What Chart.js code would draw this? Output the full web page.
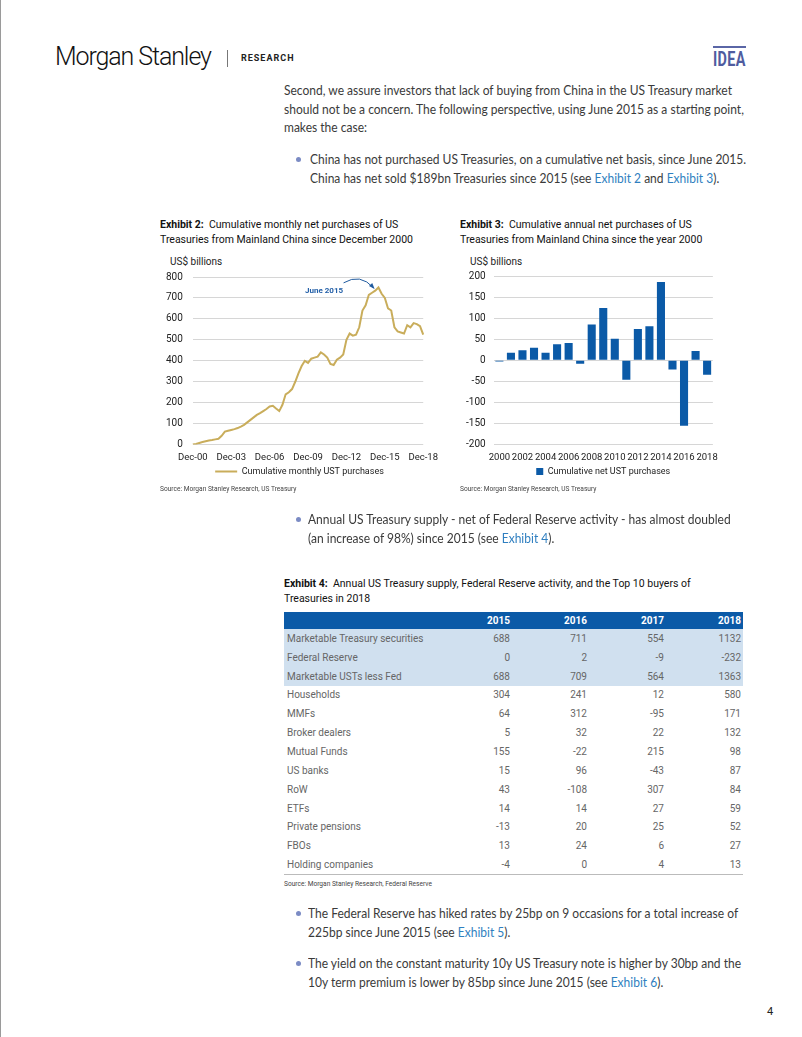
<!DOCTYPE html>
<html>
<head>
<meta charset="utf-8">
<title>Morgan Stanley Research - China UST purchases</title>
<script src="https://cdn.jsdelivr.net/npm/chart.js@4.4.0/dist/chart.umd.min.js"></script>
<style>
    body { margin:0; width:802px; height:1037px; position:relative; background:#fff; overflow:hidden;
           font-family: Lato, "Open Sans", sans-serif; color:#333; }
    .abs { position:absolute; white-space:nowrap; }
    .frame { position:absolute; left:0; top:0; width:1px; height:1037px; background:#9a9a9a; }
    .logo { left:55px; top:42px; font-family:Roboto, sans-serif; font-weight:300; font-size:25px; letter-spacing:-1.1px; color:#111; }
    .sep { left:227px; top:50px; width:1px; height:17px; background:#777; }
    .research { left:241px; top:53px; font-family:Roboto, sans-serif; font-weight:700; font-size:9px; letter-spacing:1px; color:#222; }
    .idea-bar { left:713px; top:46px; width:33px; height:2px; background:#5a66a6; }
    .idea { left:713px; top:47px; font-family:Roboto, sans-serif; font-weight:700; font-size:20px; color:#4f5c9f;
            transform:scaleX(0.72); transform-origin:left top; letter-spacing:0.5px; }
    .body { font-size:13.6px; line-height:18.5px; color:#3a3a3a; transform:scaleX(0.885); transform-origin:left top; }
    .bullet { width:5px; height:5px; border-radius:50%; background:#7b8bc4; }
    .lnk { color:#2f7fc0; }
    .ex-title { font-family:Roboto, sans-serif; font-size:10.5px; line-height:15px; color:#111; }
    .ex-title b { font-weight:700; }
    .unit { font-family:Roboto, sans-serif; font-size:10px; color:#222; }
    .src { font-family:Roboto, sans-serif; font-size:6.6px; color:#444; }
    .note { font-family:Roboto, sans-serif; font-weight:700; font-size:8px; color:#2460a8; }
    canvas { position:absolute; }
    table { position:absolute; left:284px; top:612px; width:459px; border-collapse:collapse; table-layout:fixed;
            font-family:Roboto, sans-serif; font-size:10px; color:#666; }
    th { background:#0b5aa7; color:#fff; font-weight:700; height:17px; padding:0 2px 0 0; text-align:right; }
    td { height:18.85px; padding:0 2px 0 0; text-align:right; }
    td:first-child { text-align:left; padding-left:3px; }
    tr.hl td { background:#d0e0ef; }
    tr:last-child td { border-bottom:1px solid #bbb; }
    .pnum { left:767px; top:1005px; font-family:Roboto, sans-serif; font-size:11px; color:#222; }
</style>
</head>
<body>
<div class="frame"></div>

<div class="abs logo">Morgan Stanley</div>
<div class="abs sep"></div>
<div class="abs research">RESEARCH</div>
<div class="abs idea-bar"></div>
<div class="abs idea">IDEA</div>

<div class="abs body" style="left:284px; top:81px;">
    Second, we assure investors that lack of buying from China in the US Treasury market<br>
    should not be a concern. The following perspective, using June 2015 as a starting point,<br>
    makes the case:
</div>

<div class="abs bullet" style="left:296px; top:157px;"></div>
<div class="abs body" style="left:310px; top:150px;">
    China has not purchased US Treasuries, on a cumulative net basis, since June 2015.<br>
    China has net sold $189bn Treasuries since 2015 (see <span class="lnk">Exhibit 2</span> and <span class="lnk">Exhibit 3</span>).
</div>

<!-- Exhibit 2 -->
<div class="abs ex-title" style="left:160px; top:217px;">
    <b>Exhibit 2:</b>&nbsp; Cumulative monthly net purchases of US<br>
    Treasuries from Mainland China since December 2000
</div>
<div class="abs unit" style="left:170px; top:256px;">US$ billions</div>
<canvas id="chartMonthly" width="295" height="225" style="left:150px; top:261px;"></canvas>
<div class="abs note" style="left:305px; top:286px;">June 2015</div>
<div class="abs src" style="left:160px; top:485px;">Source: Morgan Stanley Research, US Treasury</div>

<!-- Exhibit 3 -->
<div class="abs ex-title" style="left:460px; top:217px;">
    <b>Exhibit 3:</b>&nbsp; Cumulative annual net purchases of US<br>
    Treasuries from Mainland China since the year 2000
</div>
<div class="abs unit" style="left:470px; top:256px;">US$ billions</div>
<canvas id="chartAnnual" width="271" height="224" style="left:454px; top:262px;"></canvas>
<div class="abs src" style="left:460px; top:485px;">Source: Morgan Stanley Research, US Treasury</div>

<div class="abs bullet" style="left:296px; top:517px;"></div>
<div class="abs body" style="left:308px; top:510px;">
    Annual US Treasury supply - net of Federal Reserve activity - has almost doubled<br>
    (an increase of 98%) since 2015 (see <span class="lnk">Exhibit 4</span>).
</div>

<!-- Exhibit 4 -->
<div class="abs ex-title" style="left:284px; top:576px;">
    <b>Exhibit 4:</b>&nbsp; Annual US Treasury supply, Federal Reserve activity, and the Top 10 buyers of<br>
    Treasuries in 2018
</div>
<table id="supplyTable">
    <colgroup><col style="width:151px"><col style="width:77px"><col style="width:77px"><col style="width:77px"><col style="width:77px"></colgroup>
    <thead><tr><th></th><th>2015</th><th>2016</th><th>2017</th><th>2018</th></tr></thead>
    <tbody></tbody>
</table>
<div class="abs src" style="left:284px; top:880px;">Source: Morgan Stanley Research, Federal Reserve</div>

<div class="abs bullet" style="left:296px; top:911px;"></div>
<div class="abs body" style="left:308px; top:904px;">
    The Federal Reserve has hiked rates by 25bp on 9 occasions for a total increase of<br>
    225bp since June 2015 (see <span class="lnk">Exhibit 5</span>).
</div>
<div class="abs bullet" style="left:296px; top:961px;"></div>
<div class="abs body" style="left:308px; top:954px;">
    The yield on the constant maturity 10y US Treasury note is higher by 30bp and the<br>
    10y term premium is lower by 85bp since June 2015 (see <span class="lnk">Exhibit 6</span>).
</div>

<div class="abs pnum">4</div>

<script>
// ===== DATA =====
// Exhibit 2: quarter-end readings, Dec-00 .. Dec-18 (US$ bn)
const quarterEnds = ['Mar', 'Jun', 'Sep', 'Dec'];
const yearsShort = ['01','02','03','04','05','06','07','08','09','10','11','12','13','14','15','16','17','18'];
const monthlyTickLabels = ['Dec-00', 'Dec-03', 'Dec-06', 'Dec-09', 'Dec-12', 'Dec-15', 'Dec-18'];
const cumulativeUst = [
    0,
    3, 8, 12, 16,          // 2001
    20, 22, 25, 28,        // 2002
    42, 62, 66, 70,        // 2003
    74, 79, 86, 94,        // 2004
    106, 118, 130, 142,    // 2005
    150, 160, 170, 182,    // 2006
    185, 172, 160, 190,    // 2007
    240, 250, 265, 300,    // 2008
    340, 375, 400, 390,    // 2009
    410, 415, 420, 440,    // 2010
    430, 415, 385, 380,    // 2011
    405, 415, 430, 500,    // 2012
    530, 520, 525, 560,    // 2013
    640, 665, 715, 725,    // 2014
    735, 750, 720, 700,    // 2015
    650, 640, 560, 540,    // 2016
    535, 530, 570, 560,    // 2017
    580, 575, 565, 525     // 2018
];

// Exhibit 3
const years = ['2000','2001','2002','2003','2004','2005','2006','2007','2008','2009',
               '2010','2011','2012','2013','2014','2015','2016','2017','2018'];
const annualTickLabels = ['2000','2002','2004','2006','2008','2010','2012','2014','2016','2018'];
const annualNet = [-3, 18, 24, 30, 18, 38, 41, -8, 85, 124, 51, -46, 74, 81, 186, -22, -155, 22, -34];

// Exhibit 4
const tableCols = ['2015', '2016', '2017', '2018'];
const tableRows = [
    ['Marketable Treasury securities', 688, 711, 554, 1132],
    ['Federal Reserve', 0, 2, -9, -232],
    ['Marketable USTs less Fed', 688, 709, 564, 1363],
    ['Households', 304, 241, 12, 580],
    ['MMFs', 64, 312, -95, 171],
    ['Broker dealers', 5, 32, 22, 132],
    ['Mutual Funds', 155, -22, 215, 98],
    ['US banks', 15, 96, -43, 87],
    ['RoW', 43, -108, 307, 84],
    ['ETFs', 14, 14, 27, 59],
    ['Private pensions', -13, 20, 25, 52],
    ['FBOs', 13, 24, 6, 27],
    ['Holding companies', -4, 0, 4, 13]
];
const highlightRows = 3;

// ===== TABLE =====
const tbody = document.querySelector('#supplyTable tbody');
tableRows.forEach((row, i) => {
    const tr = document.createElement('tr');
    if (i < highlightRows) tr.className = 'hl';
    row.forEach(v => {
        const td = document.createElement('td');
        td.textContent = v;
        tr.appendChild(td);
    });
    tbody.appendChild(tr);
});

// ===== CHART DEFAULTS =====
Chart.defaults.font.family = 'Roboto, sans-serif';
Chart.defaults.font.size = 10;
Chart.defaults.color = '#222';

const GOLD = '#c9ad5b';
const BLUE = '#0b5aa7';
const GRID = '#d6d6d6';

// category labels for the quarterly series
const quarterLabels = ['Dec-00'];
yearsShort.forEach(y => quarterEnds.forEach(m => quarterLabels.push(m + '-' + y)));

// pull the legend a bit closer to the x labels
const tightenAxis = scale => { scale.height -= 5; };

// arrow pointing at the June 2015 peak
const peakArrow = {
    id: 'peakArrow',
    afterDatasetsDraw(chart) {
        const { ctx, scales: { x, y } } = chart;
        const x0 = x.getPixelForValue(47.1), y0 = y.getPixelForValue(772);
        const cx = x.getPixelForValue(52.3), cy = y.getPixelForValue(820);
        const x1 = x.getPixelForValue(56.5), y1 = y.getPixelForValue(748);
        ctx.save();
        ctx.strokeStyle = '#1f5a9e';
        ctx.fillStyle = '#1f5a9e';
        ctx.lineWidth = 1;
        ctx.beginPath();
        ctx.moveTo(x0, y0);
        ctx.quadraticCurveTo(cx, cy, x1, y1);
        ctx.stroke();
        const ang = Math.atan2(y1 - cy, x1 - cx);
        ctx.beginPath();
        ctx.moveTo(x1 + 1.5 * Math.cos(ang), y1 + 1.5 * Math.sin(ang));
        ctx.lineTo(x1 - 5 * Math.cos(ang - 0.45), y1 - 5 * Math.sin(ang - 0.45));
        ctx.lineTo(x1 - 5 * Math.cos(ang + 0.45), y1 - 5 * Math.sin(ang + 0.45));
        ctx.closePath();
        ctx.fill();
        ctx.restore();
    }
};

// ===== EXHIBIT 2 =====
new Chart(document.getElementById('chartMonthly'), {
    type: 'line',
    data: {
        labels: quarterLabels,
        datasets: [{
            label: 'Cumulative monthly UST purchases',
            data: cumulativeUst,
            borderColor: GOLD,
            backgroundColor: GOLD,
            borderWidth: 2,
            pointRadius: 0,
            pointStyle: 'line',
            tension: 0,
            fill: false
        }]
    },
    options: {
        responsive: false,
        devicePixelRatio: 1,
        animation: false,
        layout: { padding: { left: 6, right: 2, top: 3, bottom: 0 } },
        plugins: {
            legend: {
                position: 'bottom',
                labels: {
                    usePointStyle: true,
                    pointStyle: 'line',
                    pointStyleWidth: 22,
                    padding: 2,
                    font: { size: 9 },
                    color: '#222'
                }
            },
            tooltip: { enabled: false }
        },
        scales: {
            x: {
                grid: { display: false, drawTicks: false },
                border: { display: false },
                afterFit: tightenAxis,
                ticks: {
                    autoSkip: false,
                    maxRotation: 0,
                    padding: 7,
                    font: { size: 9.5 },
                    callback: function(val) {
                        const lbl = this.getLabelForValue(val);
                        return monthlyTickLabels.includes(lbl) ? lbl : '';
                    }
                }
            },
            y: {
                min: 0,
                max: 800,
                ticks: { stepSize: 100, padding: 10 },
                grid: { color: GRID, drawTicks: false },
                border: { display: false }
            }
        }
    },
    plugins: [peakArrow]
});

// ===== EXHIBIT 3 =====
new Chart(document.getElementById('chartAnnual'), {
    type: 'bar',
    data: {
        labels: years,
        datasets: [{
            label: 'Cumulative net UST purchases',
            data: annualNet,
            backgroundColor: BLUE,
            borderWidth: 0,
            categoryPercentage: 1,
            barPercentage: 0.7
        }]
    },
    options: {
        responsive: false,
        devicePixelRatio: 1,
        animation: false,
        layout: { padding: { left: 4, right: 8, top: 3, bottom: 0 } },
        plugins: {
            legend: {
                position: 'bottom',
                fullSize: false,
                labels: { boxWidth: 7, boxHeight: 7, padding: 2, font: { size: 9 }, color: '#222' }
            },
            tooltip: { enabled: false }
        },
        scales: {
            x: {
                grid: { display: false, drawTicks: false },
                border: { display: false },
                afterFit: tightenAxis,
                ticks: {
                    autoSkip: false,
                    maxRotation: 0,
                    padding: 7,
                    font: { size: 9.5 },
                    callback: function(val) {
                        const lbl = this.getLabelForValue(val);
                        return annualTickLabels.includes(lbl) ? lbl : '';
                    }
                }
            },
            y: {
                min: -200,
                max: 200,
                ticks: { stepSize: 50, padding: 8 },
                grid: { color: GRID, drawTicks: false },
                border: { display: false }
            }
        }
    }
});
</script>
</body>
</html>
